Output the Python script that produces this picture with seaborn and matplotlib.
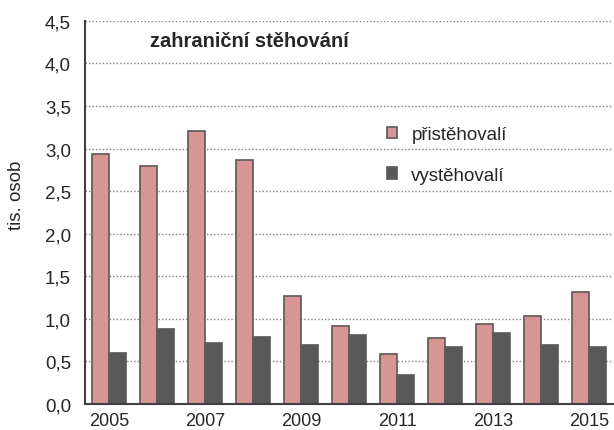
import pandas as pd
import matplotlib
matplotlib.use("Agg")
import matplotlib.pyplot as plt
import seaborn as sns

years = [str(y) for y in range(2005, 2016)]
pristehovali = [2.94, 2.80, 3.21, 2.87, 1.27, 0.92, 0.59, 0.78, 0.94, 1.03, 1.32]
vystehovali = [0.60, 0.88, 0.72, 0.79, 0.69, 0.81, 0.34, 0.67, 0.83, 0.69, 0.67]
series = ["přistěhovalí", "vystěhovalí"]

df = pd.DataFrame({
    "rok": years * 2,
    "hodnota": pristehovali + vystehovali,
    "typ": [series[0]] * len(years) + [series[1]] * len(years),
})

sns.set_style("white")
plt.rcParams["font.family"] = ["Liberation Sans", "DejaVu Sans"]

fig = plt.figure(figsize=(6.14, 4.31), dpi=100)
ax = fig.add_axes([0.1384, 0.0603, 0.860, 0.889])

sns.barplot(data=df, x="rok", y="hodnota", hue="typ", ax=ax,
            palette=["#D99594", "#595959"], width=0.71, saturation=1,
            edgecolor="#595959", linewidth=1.2)

ax.set_ylim(0, 4.5)
ax.set_xlim(-0.5, 10.5)
yt = [i * 0.5 for i in range(10)]
ax.set_yticks(yt)
ax.set_yticklabels([f"{v:.1f}".replace(".", ",") for v in yt], fontsize=13.5)
ax.yaxis.grid(True, linestyle=(0, (1, 1.5)), color="#808080", linewidth=1)
ax.set_axisbelow(True)

ax.set_xticks(range(0, 11, 2))
ax.set_xticklabels(years[::2], fontsize=13)
ax.set_xticks([i - 0.5 for i in range(12)], minor=True)
ax.tick_params(axis="x", which="major", length=0, pad=5.5)
ax.tick_params(axis="x", which="minor", length=5, width=1.2, color="#404040", direction="out")
ax.tick_params(axis="y", length=5, width=1.2, color="#404040", direction="out", pad=5)

ax.set_xlabel("")
ax.set_ylabel("tis. osob", fontsize=13.5)
ax.yaxis.set_label_coords(-0.114, 0.548)

for s in ["top", "right"]:
    ax.spines[s].set_visible(False)
for s in ["left", "bottom"]:
    ax.spines[s].set_color("#404040")
    ax.spines[s].set_linewidth(1.5)

ax.text(0.123, 0.948, "zahraniční stěhování", transform=ax.transAxes,
        fontsize=14.5, fontweight="bold", va="center")

ax.legend(loc="center left", bbox_to_anchor=(0.54, 0.65), frameon=False,
          fontsize=13.5, handlelength=0.55, handleheight=0.55, labelspacing=1.25,
          handletextpad=0.75)

fig.savefig("out.png", dpi=100)
